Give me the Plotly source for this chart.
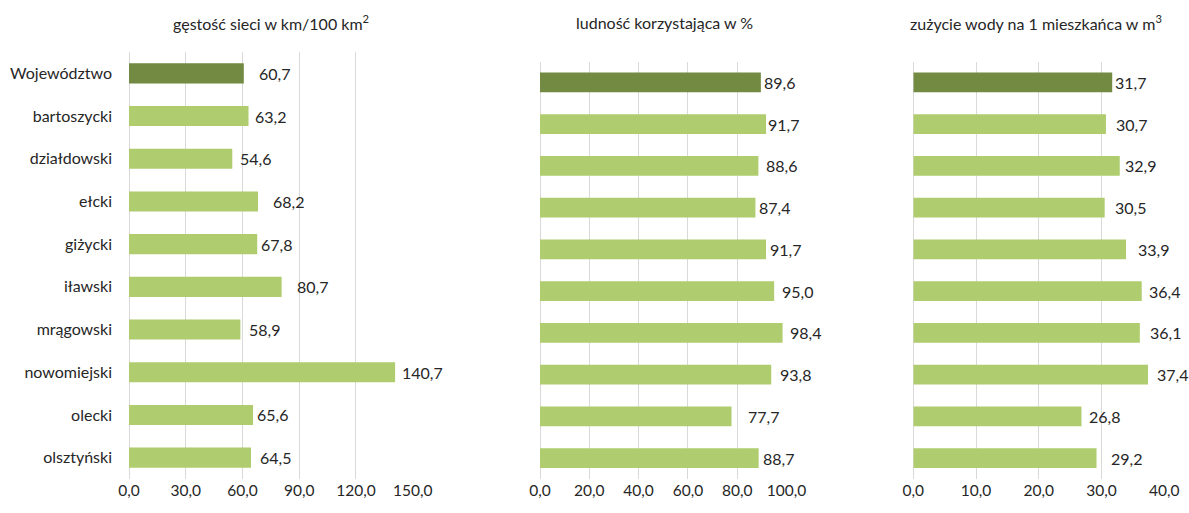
import plotly.graph_objects as go
from plotly.subplots import make_subplots

# categories (top to bottom)
powiaty = ['Województwo', 'bartoszycki', 'działdowski', 'ełcki', 'giżycki',
           'iławski', 'mrągowski', 'nowomiejski', 'olecki', 'olsztyński']

# series values
gestosc_sieci = [60.7, 63.2, 54.6, 68.2, 67.8, 80.7, 58.9, 140.7, 65.6, 64.5]
ludnosc_proc = [89.6, 91.7, 88.6, 87.4, 91.7, 95.0, 98.4, 93.8, 77.7, 88.7]
zuzycie_wody = [31.7, 30.7, 32.9, 30.5, 33.9, 36.4, 36.1, 37.4, 26.8, 29.2]

# panel titles and tick values
titles = ['gęstość sieci w km/100 km<sup>2</sup>',
          'ludność korzystająca w %',
          'zużycie wody na 1 mieszkańca w m<sup>3</sup>']
ticks_1 = [0, 30, 60, 90, 120, 150]
ticks_2 = [0, 20, 40, 60, 80, 100]
ticks_3 = [0, 10, 20, 30, 40]

# style: label gaps (px) copied from the original layout
shift_1 = [13, 4, 6, 13, 2, 13, 7, 5, 2, 7]
shift_2 = [1, 0, 6, 2, 2, 6, 5, 7, 14, 2]
shift_3 = [1, 8, 3, 8, 10, 5, 8, 7, 6, 12]

DARK = '#728A41'
LIGHT = '#AFCC6E'
GRID = '#D9D9D9'
TXT = '#262626'
FONT = 'Lato, Noto Sans, sans-serif'

W, H = 1189, 513


def fx(px):
    return px / W


def fy(py):
    return 1 - py / H


panels = [
    (gestosc_sieci, ticks_1, shift_1, [129, 412.7], [52, 479]),
    (ludnosc_proc, ticks_2, shift_2, [540, 786.5], [61.5, 479]),
    (zuzycie_wody, ticks_3, shift_3, [913.3, 1164.3], [61.5, 479]),
]

fig = make_subplots(rows=1, cols=3)

colors = [DARK] + [LIGHT] * (len(powiaty) - 1)

for i, (vals, ticks, shifts, xdom, ydom) in enumerate(panels, start=1):
    fig.add_trace(
        go.Bar(x=vals, y=powiaty, orientation='h',
               marker=dict(color=colors, line=dict(width=0)),
               hoverinfo='skip', showlegend=False),
        row=1, col=i
    )
    xa = 'xaxis' if i == 1 else f'xaxis{i}'
    ya = 'yaxis' if i == 1 else f'yaxis{i}'
    fig.layout[xa].update(
        domain=[fx(xdom[0]), fx(xdom[1])], automargin=False,
        range=[0, ticks[-1]], tickvals=ticks, tickformat='.1f',
        showgrid=True, gridcolor=GRID, gridwidth=1,
        zeroline=True, zerolinecolor=GRID, zerolinewidth=1,
        showline=False, ticks='', fixedrange=True,
        tickfont=dict(size=15.5, color=TXT, family=FONT),
    )
    fig.layout[ya].update(
        domain=[fy(ydom[1]), fy(ydom[0])], automargin=False,
        autorange='reversed', showgrid=False, zeroline=False,
        showline=False, ticks='', showticklabels=(i == 1),
        ticklabelstandoff=16, fixedrange=True,
        tickfont=dict(size=16, color=TXT, family=FONT),
    )

    xref = 'x' if i == 1 else f'x{i}'
    yref = 'y' if i == 1 else f'y{i}'
    for cat, v, s in zip(powiaty, vals, shifts):
        fig.add_annotation(
            x=v, y=cat, xref=xref, yref=yref,
            text=f'{v:.1f}'.replace('.', ','),
            showarrow=False, xanchor='left', yanchor='middle', xshift=s,
            font=dict(size=16, color=TXT, family=FONT)
        )

# panel titles
for t, cx in zip(titles, [271, 664, 1036]):
    fig.add_annotation(
        x=fx(cx), y=fy(22), xref='paper', yref='paper', text=t,
        showarrow=False, xanchor='center', yanchor='middle',
        font=dict(size=16, color=TXT, family=FONT)
    )

fig.update_layout(
    width=W, height=H,
    margin=dict(l=0, r=0, t=0, b=0),
    bargap=0.53,
    separators=', ',
    plot_bgcolor='white', paper_bgcolor='white',
    font=dict(family=FONT, color=TXT),
)

# drop the default page margin so the figure starts at the window corner
fig.write_html('out.html',
               config={'displayModeBar': False},
               post_script="document.body.style.margin='0';document.body.style.overflow='hidden';")
